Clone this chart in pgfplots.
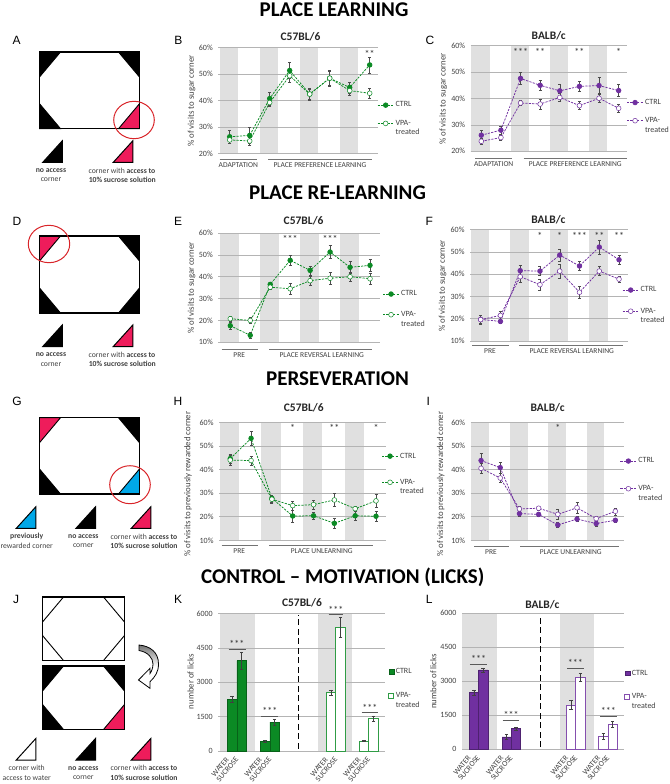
\documentclass[border=0pt]{standalone}
\usepackage{fontspec}
\setmainfont{Carlito}
\newfontfamily\arialb[BoldFont=Liberation Sans]{Liberation Sans}
\usepackage{pgfplots}
\usepackage{pgfplotstable}
\pgfplotsset{compat=1.18}
\definecolor{cg}{HTML}{0B8A24}
\definecolor{cp}{HTML}{7030A0}
\definecolor{pink}{HTML}{EE1C5B}
\definecolor{blu}{HTML}{00A8E8}
\definecolor{redc}{HTML}{D9252A}
\definecolor{bandc}{HTML}{E0E0E0}
\definecolor{gridc}{HTML}{B4B4B4}
\definecolor{txt}{HTML}{404040}
\pgfplotstableread{
x c ce v ve
0 26.4 2.5 25.2 1.3
1 26.9 3 24.8 1.6
2 40.8 2.5 39.3 1.5
3 51.4 3 49.4 2.5
4 42.5 2.3 42.5 2
5 48.5 3 48.5 2.5
6 45 2 43.8 1.7
7 53.5 3 42.8 1.8
}\tB
\pgfplotstableread{
x c ce v ve
0 26.1 1.8 23.8 1
1 28 1.5 25.2 1
2 47.6 2.3 38.3 1
3 45 2 37.9 2
4 42.9 2.5 40.4 1.5
5 44.6 2 37.3 1.5
6 44.9 3 40.1 1.5
7 43 2.3 36.3 1.5
}\tC
\pgfplotstableread{
x c ce v ve
0 17.6 1.5 20.8 1
1 13.2 1.5 20 1.5
2 36.5 1 35.2 1
3 47.5 2.3 34.5 2.7
4 42.9 2 38.2 2
5 51.3 3 39.3 2.7
6 44.3 2.7 40 2
7 45.2 2.7 39.1 2.7
}\tE
\pgfplotstableread{
x c ce v ve
0 19.7 1.9 19.6 2
1 18.8 1 21.5 1.7
2 41.6 2.5 38.9 2.5
3 41.4 2 35.3 2.5
4 48.6 2.7 41.4 3
5 43.7 2 31.9 2.5
6 52.2 3 41.4 2
7 46.5 2 37.8 1.5
}\tF
\pgfplotstableread{
x c ce v ve
0 44.6 2 44 2
1 53.2 3 43.8 1.8
2 27.8 1.5 27.4 1.5
3 20.3 2.5 24.7 2
4 20.4 1.5 25.1 2
5 17.2 2 27.1 2.7
6 20.4 2 23.4 1
7 20.2 2 26.7 2.7
}\tH
\pgfplotstableread{
x c ce v ve
0 43.8 3 40.5 2
1 40.8 2.2 36.4 2
2 21.3 1 23.3 1
3 21 1 23.6 1
4 16.5 1 21 2
5 19 1 23.8 2.2
6 17.1 1 19.2 1
7 18.5 1 22.3 1.5
}\tI
\pgfplotstableread{
x y e
0.5 2272 130
1.5 3947 380
3.95 437 40
4.95 1267 130
}\tKc
\pgfplotstableread{
x y e
10.85 2548 120
11.85 5403 450
14.26 437 30
15.26 1412 130
}\tKv
\pgfplotstableread{
x y e
0.5 2515 110
1.5 3500 90
4.03 544 100
5.03 912 50
}\tLc
\pgfplotstableread{
x y e
11 1956 200
12 3176 170
14.46 559 130
15.46 1103 130
}\tLv
\pgfplotsset{
 common/.style={scale only axis, anchor=south west, clip=false,
  axis line style={draw=none}, tick style={draw=none}, xtick=\empty,
  ticklabel style={font=\fontsize{8}{9}\selectfont, text=txt},
  yticklabel style={xshift=-2pt},
  ylabel style={font=\fontsize{8.8}{10}\selectfont, text=txt},
  title style={font=\fontsize{11.5}{13}\bfseries\selectfont, text=black!85},
  legend cell align=left},
 ya/.style={ymin=20,ymax=60,ytick={20,30,40,50,60},yticklabels={20\%,30\%,40\%,50\%,60\%}},
 yb/.style={ymin=10,ymax=60,ytick={10,20,30,40,50,60},yticklabels={10\%,20\%,30\%,40\%,50\%,60\%}},
 ttl/.style n args={3}{title={#1},title style={at={(axis description cs:0.5,1)},anchor=center,xshift=#2pt,yshift=#3pt}},
 yl/.style n args={3}{ylabel={#1},ylabel style={at={(axis description cs:0,0.5)},anchor=center,xshift=#3pt,yshift=-#2pt}},
 leg/.style n args={3}{legend style={at={(axis description cs:1,1)},anchor=north west,xshift=#1pt,yshift=#2pt,
   draw=none,fill=none,inner sep=0pt,outer sep=0pt,row sep=#3pt,
   font=\fontsize{8}{9.7}\selectfont,text=txt,
   nodes={inner xsep=1.6pt,inner ysep=0pt}}},
 lineleg/.style={legend image code/.code={\draw[mark repeat=2,mark phase=2,##1] plot coordinates {(0pt,0pt)(8pt,0pt)(16pt,0pt)};}},
 ebar/.style={error bars/.cd,y dir=both,y explicit,
   error bar style={solid,line width=.45pt,color=black!70},
   error mark options={solid,rotate=90,mark size=1.5,line width=.45pt,color=black!70}},
 serc/.style={color=#1,line width=.75pt,dash pattern=on 2.2pt off 1.2pt,mark=*,mark size=2.3,mark options={solid,fill=#1,draw=#1}},
 serv/.style={color=#1,line width=.75pt,dash pattern=on 2.2pt off 1.2pt,mark=*,mark size=2.4,mark options={solid,fill=white,draw=#1,line width=.5pt}},
 barleg/.style={legend image code/.code={\draw[##1,/tikz/solid] (0pt,-2.4pt) rectangle (5pt,2.4pt);}},
 rot/.style={x tick label style={rotate=50,anchor=east,font=\fontsize{7.8}{8}\selectfont,xshift=-5.1pt,yshift=-1.1pt}},
}
\newcommand{\vpa}{\parbox[t]{40pt}{VPA-\newline treated}}
\newcommand{\band}[4]{\addplot[fill=bandc,draw=none,forget plot] coordinates {(#1,#3)(#2,#3)(#2,#4)(#1,#4)} --cycle;}
\newcommand{\gl}[3]{\addplot[gridc,line width=.7pt,forget plot] coordinates {(#1,#3)(#2,#3)};}
\newcommand{\stars}[3]{\node[font=\fontsize{10}{10}\selectfont,text=black!80,anchor=center,inner sep=0pt] at (axis cs:#1,#2) {\raisebox{-1.6pt}{#3}};}
\newcommand{\linebody}[5]{%
 \band{-0.5}{0.43}{#3}{60}\band{1.5}{2.43}{#3}{60}\band{3.5}{4.43}{#3}{60}\band{5.5}{6.43}{#3}{60}%
 \gl{#1}{#2}{#3}\gl{#1}{#2}{30}\gl{#1}{#2}{40}\gl{#1}{#2}{50}\gl{#1}{#2}{60}\gl{#1}{#2}{20}%
 \addplot[serc=#5,ebar] table[x=x,y=c,y error=ce]{#4};\addlegendentry{CTRL}
 \addplot[serv=#5,ebar] table[x=x,y=v,y error=ve]{#4};\addlegendentry{\vpa}
}
\newcommand{\barbody}[6]{%
 \gl{#1}{#2}{0}\gl{#1}{#2}{1500}\gl{#1}{#2}{3000}\gl{#1}{#2}{4500}\gl{#1}{#2}{6000}%
 \addplot[ybar,bar width=1,bar shift=0pt,fill=#5,draw=#5!70!black,line width=.5pt,error bars/.cd,y dir=both,y explicit,
   error bar style={line width=.45pt,color=black!75},error mark options={rotate=90,mark size=1.8,line width=.45pt,color=black!75}] table[x=x,y=y,y error=e]{#3};\addlegendentry{CTRL}
 \addplot[ybar,bar width=1,bar shift=0pt,fill=white,draw=#5!85!white,line width=.9pt,error bars/.cd,y dir=both,y explicit,
   error bar style={line width=.45pt,color=black!75},error mark options={rotate=90,mark size=1.8,line width=.45pt,color=black!75}] table[x=x,y=y,y error=e]{#4};\addlegendentry{\vpa}
 \addplot[black,line width=1.3pt,dash pattern=on 6pt off 3.5pt,forget plot] coordinates {(#6,100)(#6,5950)};
}
% schematic
\newcommand{\arena}[8]{% x0 y0 x1 y1 TL TR BL BR
 \fill[white] (#1,#2) rectangle (#3,#4);
 \def\cx{21}\def\cy{25}
 \filldraw[fill=#5,draw=black,line width=.9pt] (#1,#2) -- ({#1+\cx},#2) -- (#1,{#2+\cy}) -- cycle;
 \filldraw[fill=#6,draw=black,line width=.9pt] (#3,#2) -- ({#3-\cx},#2) -- (#3,{#2+\cy}) -- cycle;
 \filldraw[fill=#7,draw=black,line width=.9pt] (#1,#4) -- ({#1+\cx},#4) -- (#1,{#4-\cy}) -- cycle;
 \filldraw[fill=#8,draw=black,line width=.9pt] (#3,#4) -- ({#3-\cx},#4) -- (#3,{#4-\cy}) -- cycle;
 \draw[black,line width=1.4pt] (#1,#2) rectangle (#3,#4);
}
\newcommand{\tri}[3]{\filldraw[fill=#3,draw=black,line width=1pt,line join=miter] (#1,#2) -- ({#1+19.5},#2) -- ({#1+19.5},{#2-21.5}) -- cycle;}
\newcommand{\capt}[3]{\node[font=\fontsize{7.7}{8}\selectfont,text=txt,anchor=center,inner sep=0pt] at (#1,#2) {#3};}
\newcommand{\secttl}[3]{\node[font=\fontsize{21}{24}\bfseries\selectfont,text=black,anchor=center,inner sep=0pt] at (#1,#2) {#3};}
\newcommand{\plab}[3]{\node[font=\arialb\fontsize{12}{13}\bfseries\selectfont,text=black,anchor=center,inner sep=0pt] at (#1,#2) {#3};}
\newcommand{\grp}[5]{\draw[black!55,line width=.7pt] (#1,#3) -- (#2,#3);\node[font=\fontsize{7.5}{8}\selectfont,text=txt,anchor=center,inner sep=0pt] at (#4,{#3+5.6}) {#5};}
\begin{document}
\begin{tikzpicture}[x=1pt,y=-1pt]
\useasboundingbox (0,0) rectangle (669,784);
\secttl{334}{10}{PLACE LEARNING}
\secttl{337.5}{193}{PLACE RE-LEARNING}
\secttl{337.5}{379}{PERSEVERATION}
\secttl{342.8}{577}{CONTROL -- MOTIVATION (LICKS)}
\plab{16.7}{40.3}{A}\plab{178.3}{40.3}{B}\plab{430}{40}{C}
\plab{17}{221.7}{D}\plab{178}{221.7}{E}\plab{429.3}{221.7}{F}
\plab{17}{401.7}{G}\plab{178}{401.7}{H}\plab{428.3}{401.7}{I}
\plab{16}{599}{J}\plab{178}{599}{K}\plab{429.3}{599}{L}
% A
\arena{39.5}{52}{139.5}{128.7}{black}{black}{black}{pink}
\draw[redc,line width=1pt] (134,120) ellipse (20.3 and 18.7);
\tri{42.8}{162.3}{black}\tri{113.3}{162.3}{pink}
\capt{51}{170.7}{\textbf{no access}}\capt{51}{180}{corner}
\capt{122}{170.7}{corner with \textbf{access to}}\capt{122.3}{180}{\textbf{10\% sucrose solution}}
% D
\arena{39.5}{236}{139.5}{313}{pink}{black}{black}{black}
\draw[redc,line width=1pt] (49,244) ellipse (20.7 and 18.7);
\tri{42.8}{346.5}{black}\tri{113.3}{346.5}{pink}
\capt{51}{355}{\textbf{no access}}\capt{51}{364.3}{corner}
\capt{122}{355}{corner with \textbf{access to}}\capt{122.3}{364.3}{\textbf{10\% sucrose solution}}
% G
\arena{39.5}{417.7}{139.5}{494}{pink}{black}{black}{blu}
\draw[redc,line width=1pt] (130,484.7) ellipse (20.3 and 19);
\tri{16.3}{528.3}{blu}\tri{76}{528.3}{black}\tri{131.3}{528.3}{pink}
\capt{26.7}{536.7}{\textbf{previously}}\capt{26.7}{545.7}{rewarded corner}
\capt{83.3}{536.7}{\textbf{no access}}\capt{83.3}{545.7}{corner}
\capt{144}{536.7}{corner with \textbf{access to}}\capt{144}{545.7}{\textbf{10\% sucrose solution}}
% J
\arena{42.5}{597}{124.5}{660.5}{white}{white}{white}{white}
\arena{42.5}{666}{124.5}{729.5}{black}{black}{black}{pink}
\tri{16.3}{760}{white}\tri{76}{760}{black}\tri{131.3}{760}{pink}
\capt{26.7}{768.3}{corner with}\capt{26.7}{777.7}{access to water}
\capt{83.3}{768.3}{\textbf{no access}}\capt{83.3}{777.7}{corner}
\capt{144}{768.3}{corner with \textbf{access to}}\capt{144}{777.7}{\textbf{10\% sucrose solution}}
% curved arrow
\shade[top color=black!55,bottom color=white,middle color=white,draw=black,line width=.8pt]
 (139,645) .. controls (150,646) and (158.5,652) .. (158.5,664)
 .. controls (158.5,672) and (155,677) .. (150,681.7)
 -- (150,688.3) -- (138.5,680) -- (150,668.3) -- (150,673.5)
 .. controls (151.5,671.5) and (153,668) .. (153,664)
 .. controls (153,658) and (148,652) .. (139,650.5) -- cycle;
% group labels
\grp{219.7}{256.7}{159.3}{238.3}{ADAPTATION}
\grp{268.3}{371.7}{159.3}{320}{PLACE PREFERENCE LEARNING}
\grp{475.3}{512}{158.7}{493.7}{ADAPTATION}
\grp{523.7}{626.7}{158.7}{575.3}{PLACE PREFERENCE LEARNING}
\grp{221.7}{258.3}{349.3}{239.3}{PRE}
\grp{269.3}{372.3}{349.3}{321.7}{PLACE REVERSAL LEARNING}
\grp{472}{508.7}{345}{490}{PRE}
\grp{519.3}{622.7}{345}{571.7}{PLACE REVERSAL LEARNING}
\grp{221.7}{258.3}{545}{239.3}{PRE}
\grp{269.3}{372.7}{545}{321.7}{PLACE UNLEARNING}
\grp{474}{509.3}{546}{491}{PRE}
\grp{520}{619.3}{546}{570.7}{PLACE UNLEARNING}
% B
\begin{axis}[common,lineleg,ya,at={(218.3pt,-153.7pt)},width=160pt,height=106pt,xmin=-0.57,xmax=7.43,
 ttl={C57BL/6}{2.2}{5.2},yl={\% of visits to  sugar corner}{-26.6}{-0.2},leg={-1}{-54.1}{11.6}]
\linebody{-0.57}{7.43}{20}{\tB}{cg}
\stars{7}{57.5}{**}
\end{axis}
% C
\begin{axis}[common,lineleg,ya,at={(470.7pt,-151.3pt)},width=156pt,height=105.6pt,xmin=-0.54,xmax=7.41,
 ttl={BALB/c}{0}{4.2},yl={\% of visits to sugar corner}{-27.4}{-0.5},leg={0}{-53.5}{11.5}]
\linebody{-0.54}{7.41}{20}{\tC}{cp}
\stars{2}{57.5}{***}\stars{3}{57.5}{**}\stars{5}{57.5}{**}\stars{7}{57.5}{*}
\end{axis}
% E
\begin{axis}[common,lineleg,yb,at={(218.3pt,-342.3pt)},width=161.7pt,height=109.3pt,xmin=-0.6,xmax=7.5,
 ttl={C57BL/6}{4.5}{6.5},yl={\% of visits to sugar corner}{-26.6}{-0.4},leg={2.7}{-57.7}{14}]
\linebody{-0.6}{7.5}{10}{\tE}{cg}
\stars{3}{57.2}{***}\stars{5}{57.2}{***}
\end{axis}
% F
\begin{axis}[common,lineleg,yb,at={(470pt,-341pt)},width=158.3pt,height=111.3pt,xmin=-0.54,xmax=7.47,
 ttl={BALB/c}{-0.8}{3.9},yl={\% of visits to  sugar corner}{-27.3}{-0.6},leg={-6}{-57}{14.5}]
\linebody{-0.54}{7.47}{10}{\tF}{cp}
\stars{3}{57.3}{*}\stars{4}{57.3}{*}\stars{5}{57.3}{***}\stars{6}{57.3}{**}\stars{7}{57.3}{**}
\end{axis}
% H
\begin{axis}[common,lineleg,yb,at={(219pt,-540.3pt)},width=167pt,height=118pt,xmin=-0.54,xmax=7.48,
 ttl={C57BL/6}{1.3}{8.8},yl={\% of visits to previously rewarded corner}{-31}{-3},leg={-4.3}{-30.5}{19.5}]
\linebody{-0.54}{7.48}{10}{\tH}{cg}
\stars{3}{57.5}{*}\stars{5}{57.5}{**}\stars{7}{57.5}{*}
\end{axis}
% I
\begin{axis}[common,lineleg,yb,at={(470.7pt,-540.3pt)},width=153.3pt,height=118pt,xmin=-0.54,xmax=7.45,
 ttl={BALB/c}{0.3}{8.8},yl={\% of visits to previously rewarded corner}{-30}{-3},leg={-4}{-35.4}{21}]
\linebody{-0.54}{7.45}{10}{\tI}{cp}
\stars{4}{57.5}{*}
\end{axis}
% K
\begin{axis}[common,rot,at={(218.3pt,-751pt)},width=166.7pt,height=137.3pt,xmin=-0.94,xmax=16.48,ymin=0,ymax=6000,
 ytick={0,1500,3000,4500,6000},yticklabels={0,1500,3000,4500,6000},
 xtick={0.5,1.5,3.95,4.95,10.85,11.85,14.26,15.26},
 xticklabels={WATER,SUCROSE,WATER,SUCROSE,WATER,SUCROSE,WATER,SUCROSE},
 ttl={C57BL/6}{0.3}{4.5},yl={number of licks}{-27.6}{0.6},leg={3.3}{-54.8}{17.4},barleg]
\band{-0.77}{2.89}{0}{6000}\band{9.47}{13}{0}{6000}
\barbody{-0.94}{16.48}{\tKc}{\tKv}{cg}{7.46}
\addplot[black!65,line width=.5pt,forget plot] coordinates {(0.14,4442)(1.92,4442)};
\addplot[black!65,line width=.5pt,forget plot] coordinates {(3.55,1515)(5.33,1515)};
\addplot[black!65,line width=.5pt,forget plot] coordinates {(10.6,5985)(12.1,5985)};
\addplot[black!65,line width=.5pt,forget plot] coordinates {(14.04,1675)(15.78,1675)};
\stars{1}{4675}{***}\stars{4.45}{1733}{***}\stars{11.35}{6160}{***}\stars{14.9}{1893}{***}
\end{axis}
% L
\begin{axis}[common,rot,at={(462pt,-749.3pt)},width=162pt,height=136pt,xmin=-0.79,xmax=16.69,ymin=0,ymax=6000,
 ytick={0,1500,3000,4500,6000},yticklabels={0,1500,3000,4500,6000},
 xtick={0.5,1.5,4.03,5.03,11,12,14.46,15.46},
 xticklabels={WATER,SUCROSE,WATER,SUCROSE,WATER,SUCROSE,WATER,SUCROSE},
 ttl={BALB/c}{-0.7}{2.5},yl={number of licks}{-28.7}{0},leg={0.3}{-56.5}{17},barleg]
\band{-0.79}{3}{0}{6000}\band{9.78}{13.45}{0}{6000}
\barbody{-0.79}{16.69}{\tLc}{\tLv}{cp}{7.66}
\addplot[black!65,line width=.5pt,forget plot] coordinates {(0.07,3750)(1.94,3750)};
\addplot[black!65,line width=.5pt,forget plot] coordinates {(3.6,1294)(5.36,1294)};
\addplot[black!65,line width=.5pt,forget plot] coordinates {(10.58,3588)(12.34,3588)};
\addplot[black!65,line width=.5pt,forget plot] coordinates {(14.14,1456)(15.94,1456)};
\stars{1}{3970}{***}\stars{4.5}{1500}{***}\stars{11.45}{3809}{***}\stars{15}{1676}{***}
\end{axis}
\end{tikzpicture}
\end{document}
